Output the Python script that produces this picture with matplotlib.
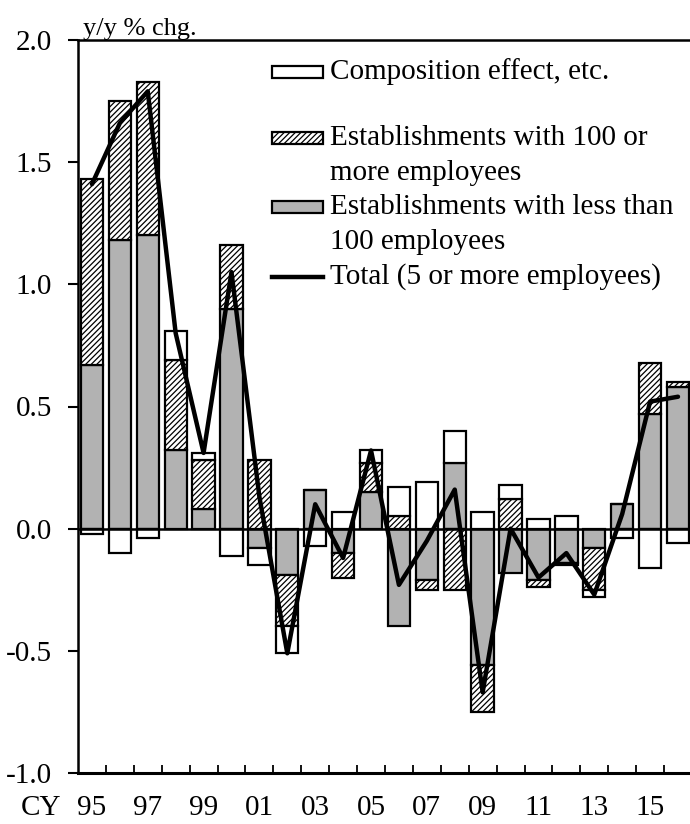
import numpy as np
import matplotlib
matplotlib.use("Agg")
import matplotlib.pyplot as plt
from matplotlib.patches import Rectangle
from matplotlib.lines import Line2D

plt.rcParams['font.family'] = ['Liberation Serif', 'DejaVu Serif']
plt.rcParams['hatch.linewidth'] = 0.9

# Данні (y/y % chg.)
years = ['95', '96', '97', '98', '99', '00', '01', '02', '03', '04', '05',
         '06', '07', '08', '09', '10', '11', '12', '13', '14', '15', '16']
small = [0.67, 1.18, 1.20, 0.32, 0.08, 0.90, -0.08, -0.19, 0.16, -0.10, 0.15,
         -0.40, -0.21, 0.27, -0.56, -0.18, -0.21, -0.14, -0.08, 0.10, 0.47, 0.58]
large = [0.76, 0.57, 0.63, 0.37, 0.20, 0.26, 0.28, -0.21, 0.00, -0.10, 0.12,
         0.05, -0.04, -0.25, -0.19, 0.12, -0.03, -0.01, -0.17, 0.00, 0.21, 0.02]
comp = [-0.02, -0.10, -0.04, 0.12, 0.03, -0.11, -0.07, -0.11, -0.07, 0.07, 0.05,
        0.12, 0.19, 0.13, 0.07, 0.06, 0.04, 0.05, -0.03, -0.04, -0.16, -0.06]
total = [1.41, 1.66, 1.79, 0.80, 0.31, 1.05, 0.13, -0.51, 0.10, -0.12, 0.32,
         -0.23, -0.05, 0.16, -0.67, 0.00, -0.20, -0.10, -0.27, 0.06, 0.52, 0.54]

FS = 21
W, H = 690, 824
fig = plt.figure(figsize=(W / 100, H / 100), dpi=100)
ax = fig.add_axes([78 / W, 1 - 773 / H, 1 - 78 / W, (773 - 40) / H])

x = np.arange(len(years))
pos = np.zeros(len(years))
neg = np.zeros(len(years))
styles = [
    (small, dict(color='#b2b2b2')),
    (large, dict(color='white', hatch='//////')),
    (comp, dict(color='white')),
]
for vals, st in styles:
    v = np.array(vals)
    bottom = np.where(v >= 0, pos, neg)
    ax.bar(x, v, bottom=bottom, width=0.8, edgecolor='black', linewidth=1.6,
           zorder=2, **st)
    pos = pos + np.where(v >= 0, v, 0)
    neg = neg + np.where(v < 0, v, 0)

ax.axhline(0, color='black', linewidth=1.8, zorder=3)
ax.plot(x, total, color='black', linewidth=3.2, zorder=4, solid_capstyle='round')

ax.set_xlim(-0.5, 21.43)
ax.set_ylim(-1.0, 2.0)
ax.set_yticks(np.arange(-1.0, 2.01, 0.5))
ax.set_yticklabels([f'{t:.1f}' for t in np.arange(-1.0, 2.01, 0.5)])
ax.tick_params(axis='y', direction='out', length=7, width=1.5, pad=11.5, labelsize=FS)

ax.set_xticks(x[::2])
ax.set_xticklabels(years[::2])
ax.set_xticks(np.arange(0.5, 21, 1), minor=True)
ax.tick_params(axis='x', which='major', length=0, pad=16, labelsize=FS)
ax.tick_params(axis='x', which='minor', direction='in', length=6, width=1.3)

for s in ['left', 'top']:
    ax.spines[s].set_linewidth(1.8)
ax.spines['bottom'].set_linewidth(2.2)
ax.spines['right'].set_visible(False)

fig.text(41 / W, 1 - 808 / H, 'CY', fontsize=FS, ha='center', va='center')
fig.text(83 / W, 1 - 35 / H, 'y/y % chg.', fontsize=19, ha='left', va='baseline')

# Легенда вручну
hx, hw, hh = 272 / W, 51 / W, 11 / H
tx = 330 / W
rows = [
    (72, dict(facecolor='white'), ['Composition effect, etc.']),
    (138, dict(facecolor='white', hatch='//////'),
     ['Establishments with 100 or', 'more employees']),
    (207, dict(facecolor='#b2b2b2'),
     ['Establishments with less than', '100 employees']),
]
for yc, st, lines in rows:
    fig.patches.append(Rectangle((hx, 1 - yc / H - hh / 2), hw, hh,
                                 transform=fig.transFigure, edgecolor='black',
                                 linewidth=1.6, **st))
    for i, t in enumerate(lines):
        fig.text(tx, 1 - (yc + 35 * i) / H, t, fontsize=FS, ha='left', va='center')
fig.lines.append(Line2D([hx, hx + hw], [1 - 277 / H] * 2, color='black',
                        linewidth=3.2, transform=fig.transFigure))
fig.text(tx, 1 - 277 / H, 'Total (5 or more employees)', fontsize=FS,
         ha='left', va='center')

fig.savefig('out.png', dpi=100)
